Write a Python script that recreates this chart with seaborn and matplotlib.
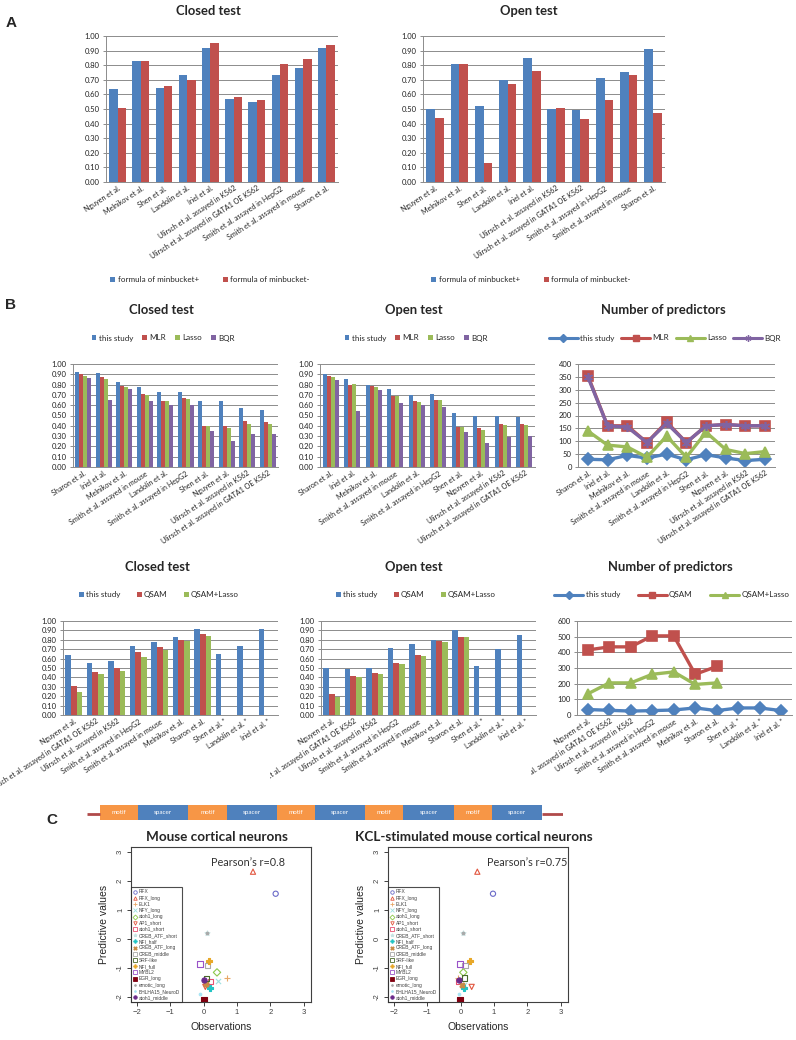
import numpy as np
import pandas as pd
import matplotlib
matplotlib.use('Agg')
import matplotlib.pyplot as plt
import seaborn as sns
from matplotlib.lines import Line2D
from matplotlib.patches import Patch
from matplotlib.ticker import FormatStrFormatter
from matplotlib.transforms import Bbox, TransformedBbox

# ---------------- data ----------------
a_studies = ['Nguyen et al.', 'Melnikov et al.', 'Shen et al.', 'Landolin et al.', 'Iriel et al.',
             'Ulirsch et al. assayed in K562', 'Ulirsch et al. assayed in GATA1 OE K562',
             'Smith et al. assayed in HepG2', 'Smith et al. assayed in mouse', 'Sharon et al.']
a_series = ['formula of minbucket+', 'formula of minbucket-']
a_closed_plus = [0.64, 0.83, 0.645, 0.73, 0.915, 0.57, 0.55, 0.73, 0.78, 0.92]
a_closed_minus = [0.51, 0.83, 0.66, 0.70, 0.95, 0.585, 0.565, 0.81, 0.84, 0.94]
a_open_plus = [0.50, 0.805, 0.52, 0.70, 0.85, 0.50, 0.49, 0.71, 0.755, 0.91]
a_open_minus = [0.435, 0.805, 0.13, 0.67, 0.76, 0.505, 0.43, 0.565, 0.73, 0.47]

b1_studies = ['Sharon et al.', 'Iriel et al.', 'Melnikov et al.', 'Smith et al. assayed in mouse',
              'Landolin et al.', 'Smith et al. assayed in HepG2', 'Shen et al.', 'Nguyen et al.',
              'Ulirsch et al. assayed in K562', 'Ulirsch et al. assayed in GATA1 OE K562']
b1_series = ['this study', 'MLR', 'Lasso', 'BQR']
b1_closed = {
    'this study': [0.92, 0.915, 0.83, 0.78, 0.73, 0.73, 0.645, 0.64, 0.57, 0.55],
    'MLR': [0.90, 0.875, 0.79, 0.71, 0.645, 0.67, 0.40, 0.40, 0.445, 0.44],
    'Lasso': [0.88, 0.855, 0.78, 0.70, 0.64, 0.66, 0.40, 0.375, 0.42, 0.42],
    'BQR': [0.86, 0.65, 0.755, 0.64, 0.60, 0.60, 0.35, 0.255, 0.325, 0.32],
}
b1_open = {
    'this study': [0.905, 0.85, 0.80, 0.755, 0.70, 0.71, 0.52, 0.50, 0.50, 0.49],
    'MLR': [0.88, 0.795, 0.785, 0.69, 0.64, 0.655, 0.39, 0.375, 0.42, 0.42],
    'Lasso': [0.875, 0.805, 0.78, 0.685, 0.635, 0.65, 0.385, 0.36, 0.41, 0.41],
    'BQR': [0.845, 0.545, 0.75, 0.625, 0.60, 0.58, 0.34, 0.23, 0.29, 0.30],
}
b1_npred = {
    'this study': [30, 28, 45, 35, 50, 28, 48, 35, 25, 30],
    'MLR': [355, 160, 160, 95, 175, 95, 160, 165, 160, 160],
    'Lasso': [140, 85, 78, 38, 120, 38, 135, 68, 52, 60],
    'BQR': [350, 160, 155, 95, 170, 95, 160, 165, 160, 160],
}

b2_studies = ['Nguyen et al.', 'Ulirsch et al. assayed in GATA1 OE K562', 'Ulirsch et al. assayed in K562',
              'Smith et al. assayed in HepG2', 'Smith et al. assayed in mouse', 'Melnikov et al.',
              'Sharon et al.', 'Shen et al. *', 'Landolin et al. *', 'Iriel et al. *']
b2_series = ['this study', 'QSAM', 'QSAM+Lasso']
b2_closed = {
    'this study': [0.64, 0.55, 0.57, 0.73, 0.78, 0.83, 0.92, 0.645, 0.73, 0.915],
    'QSAM': [0.31, 0.46, 0.50, 0.67, 0.72, 0.80, 0.86],
    'QSAM+Lasso': [0.25, 0.435, 0.47, 0.62, 0.69, 0.785, 0.84],
}
b2_open = {
    'this study': [0.50, 0.49, 0.50, 0.71, 0.76, 0.80, 0.905, 0.52, 0.70, 0.855],
    'QSAM': [0.22, 0.41, 0.45, 0.555, 0.635, 0.79, 0.83],
    'QSAM+Lasso': [0.19, 0.405, 0.44, 0.545, 0.625, 0.78, 0.825],
}
b2_npred = {
    'this study': [35, 30, 25, 28, 32, 45, 28, 45, 45, 28],
    'QSAM': [415, 435, 435, 505, 505, 260, 310],
    'QSAM+Lasso': [135, 205, 205, 260, 275, 195, 205],
}

segments = ['motif', 'spacer'] * 5
segment_len = [38, 50] * 5

motifs = ['RFX', 'RFX_long', 'ELK1', 'NFY_long', 'atoh1_long', 'AP1_short', 'atoh1_short',
          'CREB_ATF_short', 'NFI_half', 'CREB_ATF_long', 'CREB_middle', 'SRF-like', 'NFI_full',
          'MYBL2', 'EGR_long', 'emotic_long', 'BHLHA15_NeuroD', 'atoh1_middle']
obs_mouse = [2.16, 1.48, 0.71, 0.44, 0.40, 0.05, 0.20, 0.09, 0.19, 0.07, 0.12, 0.09, 0.17,
             -0.11, 0.02, 0.09, -0.10, 0.00]
pred_mouse = [1.56, 2.32, -1.33, -1.45, -1.15, -1.65, -1.45, 0.19, -1.69, -1.56, -0.90, -1.37,
              -0.75, -0.86, -2.10, 0.19, -1.88, -1.42]
obs_kcl = [0.97, 0.50, -0.07, 0.10, 0.08, 0.33, -0.07, 0.08, 0.11, 0.05, 0.13, 0.11, 0.28,
           -0.02, -0.02, 0.08, -0.04, -0.05]
pred_kcl = [1.56, 2.32, -1.33, -1.60, -1.15, -1.65, -1.45, 0.19, -1.69, -1.57, -0.91, -1.34,
            -0.76, -0.86, -2.10, 0.19, -1.88, -1.42]

# marker style per motif: (marker, colour, filled)
motif_style = {
    'RFX': ('o', '#6a6ac8', False), 'RFX_long': ('^', '#e2563f', False),
    'ELK1': ('+', '#e8a868', True), 'NFY_long': ('x', '#9ee0e0', True),
    'atoh1_long': ('D', '#8cc84a', False), 'AP1_short': ('v', '#e2563f', False),
    'atoh1_short': ('s', '#e85070', False), 'CREB_ATF_short': ('*', '#c8e4e4', True),
    'NFI_half': ('P', '#22c4c4', True), 'CREB_ATF_long': ('X', '#c88a44', True),
    'CREB_middle': ('s', '#a8a8a8', False), 'SRF-like': ('s', '#4a6a2a', False),
    'NFI_full': ('P', '#e8a828', True), 'MYBL2': ('s', '#9a52c8', False),
    'EGR_long': ('s', '#800010', True), 'emotic_long': ('.', '#a8a8a8', True),
    'BHLHA15_NeuroD': ('.', '#a8e4f4', True), 'atoh1_middle': ('o', '#6a2a8a', True),
}

# ---------------- layout helpers ----------------
sns.set_theme(style='white')
plt.rcParams['font.family'] = ['Lato', 'DejaVu Sans']

W, H = 796, 1040
fig = plt.figure(figsize=(W / 100, H / 100), dpi=100)

BLUE, RED, GREEN, PURPLE = '#4f81bd', '#c0504d', '#9bbb59', '#8064a2'
GRID = '#8c8c8c'


def px_axes(l, t, r, b):
    return fig.add_axes([l / W, 1 - b / H, (r - l) / W, (b - t) / H])


def fxy(x, y):
    return (x / W, 1 - y / H)


def title(x, y, s, size=9.4):
    fig.text(*fxy(x, y), s, ha='center', va='center', fontsize=size, fontweight='bold')


def excel_axes(ax, cats, ymax, step, fmt, clip=None):
    ax.set_ylim(0, ymax)
    ax.set_yticks(np.arange(0, ymax + step / 2, step))
    ax.yaxis.set_major_formatter(FormatStrFormatter(fmt))
    ax.grid(axis='y', color=GRID, linewidth=0.7)
    ax.grid(axis='x', visible=False)
    ax.set_axisbelow(True)
    for s in ['top', 'right']:
        ax.spines[s].set_visible(False)
    for s in ['left', 'bottom']:
        ax.spines[s].set_color(GRID)
        ax.spines[s].set_linewidth(0.7)
    ax.tick_params(axis='y', left=True, length=2.5, width=0.7, color=GRID,
                   labelsize=5.5, pad=2, labelcolor='#222222')
    ax.set_xlim(-0.5, len(cats) - 0.5)
    ax.set_xticks(range(len(cats)))
    ax.set_xticklabels(cats, rotation=33, ha='right', va='top', rotation_mode='anchor',
                       fontsize=5.1, color='#222222')
    ax.tick_params(axis='x', length=0, pad=2)
    ax.set_xlabel('')
    ax.set_ylabel('')
    if clip is not None:
        # labels are cut at the edge of their own chart area, as in the original
        x0, x1 = clip
        box = TransformedBbox(Bbox.from_extents(x0 / W, 0, x1 / W, 1), fig.transFigure)
        for lab in ax.get_xticklabels():
            lab.set_clip_box(box)
            lab.set_clip_on(True)


def bars(ax, cats, series, values, colors, width):
    rows = []
    for name in series:
        for cat, v in zip(cats, values[name]):
            rows.append((cat, name, v))
    df = pd.DataFrame(rows, columns=['study', 'series', 'value'])
    sns.barplot(data=df, x='study', y='value', hue='series', order=cats, hue_order=series,
                palette=colors, width=width, errorbar=None, saturation=1, linewidth=0,
                legend=False, ax=ax)


def lines(ax, cats, series, values, colors, markers):
    for name, c, m in zip(series, colors, markers):
        v = values[name]
        sns.lineplot(x=np.arange(len(v)), y=v, color=c, marker=m, markersize=6.5,
                     markeredgecolor=c, markeredgewidth=1.2, linewidth=2.4, ax=ax)


def bar_legend(x, y, series, colors, spacing=1.5):
    h = [Patch(facecolor=c, edgecolor='none') for c in colors]
    fig.legend(h, series, loc='center', bbox_to_anchor=fxy(x, y), ncol=len(series),
               frameon=False, fontsize=5.8, handlelength=0.6, handleheight=0.6,
               handletextpad=0.3, columnspacing=spacing, borderpad=0)


def line_legend(x, y, series, colors, markers, spacing=1.0):
    h = [Line2D([], [], color=c, marker=m, markersize=4.5, markeredgewidth=1.0, linewidth=2.2)
         for c, m in zip(colors, markers)]
    fig.legend(h, series, loc='center', bbox_to_anchor=fxy(x, y), ncol=len(series),
               frameon=False, fontsize=5.8, handlelength=3.6, handletextpad=0.3,
               columnspacing=spacing, borderpad=0, numpoints=1)


def panel_label(x, y, s):
    fig.text(*fxy(x, y), s, ha='center', va='center', fontsize=11, fontweight='bold',
             family='Liberation Sans')


# ---------------- panel A ----------------
panel_label(11, 23, 'A')
a_closed = {a_series[0]: a_closed_plus, a_series[1]: a_closed_minus}
a_open = {a_series[0]: a_open_plus, a_series[1]: a_open_minus}

ax = px_axes(106, 36, 338, 182)
bars(ax, a_studies, a_series, a_closed, [BLUE, RED], 0.72)
excel_axes(ax, a_studies, 1.0, 0.1, '%.2f')
title(208, 11, 'Closed test')
bar_legend(210, 280, a_series, [BLUE, RED], spacing=3)

ax = px_axes(423, 36, 665, 182)
bars(ax, a_studies, a_series, a_open, [BLUE, RED], 0.72)
excel_axes(ax, a_studies, 1.0, 0.1, '%.2f')
title(529, 11, 'Open test')
bar_legend(531, 280, a_series, [BLUE, RED], spacing=3)

# ---------------- panel B ----------------
panel_label(11, 305, 'B')
c4 = [BLUE, RED, GREEN, PURPLE]
c3 = [BLUE, RED, GREEN]

ax = px_axes(73, 364, 278, 467)
bars(ax, b1_studies, b1_series, b1_closed, c4, 0.8)
excel_axes(ax, b1_studies, 1.0, 0.1, '%.2f')
title(161, 310, 'Closed test')
bar_legend(163, 338, b1_series, c4, spacing=1.1)

ax = px_axes(320, 364, 535, 467)
bars(ax, b1_studies, b1_series, b1_open, c4, 0.76)
excel_axes(ax, b1_studies, 1.0, 0.1, '%.2f')
title(414, 310, 'Open test')
bar_legend(416, 338, b1_series, c4, spacing=1.1)

ax = px_axes(578, 364, 775, 467)
lines(ax, b1_studies, b1_series, b1_npred, c4, ['D', 's', '^', (6, 2, 0)])
excel_axes(ax, b1_studies, 400, 50, '%d')
title(663, 310, 'Number of predictors')
line_legend(665, 338, b1_series, c4, ['D', 's', '^', (6, 2, 0)], spacing=0.8)

ax = px_axes(63, 621, 278, 715)
bars(ax, b2_studies, b2_series, b2_closed, c3, 0.78)
excel_axes(ax, b2_studies, 1.0, 0.1, '%.2f', clip=(0, 269))
title(157, 567, 'Closed test')
bar_legend(159, 595, b2_series, c3, spacing=2)

ax = px_axes(321, 621, 536, 715)
bars(ax, b2_studies, b2_series, b2_open, c3, 0.78)
excel_axes(ax, b2_studies, 1.0, 0.1, '%.2f', clip=(270, 531))
title(414, 567, 'Open test')
bar_legend(416, 595, b2_series, c3, spacing=2)

ax = px_axes(577, 621, 792, 715)
lines(ax, b2_studies, b2_series, b2_npred, c3, ['D', 's', '^'])
excel_axes(ax, b2_studies, 600, 100, '%d', clip=(531, 796))
title(670, 567, 'Number of predictors')
line_legend(672, 595, b2_series, c3, ['D', 's', '^'], spacing=2.2)

# ---------------- motif / spacer diagram ----------------
ax = px_axes(87, 800, 563, 825)
starts = np.concatenate([[0], np.cumsum(segment_len)[:-1]])
seg_colors = ['#f79646' if s == 'motif' else BLUE for s in segments]
total = sum(segment_len)
ax.plot([-13, 0], [0.45, 0.45], color='#b04a4a', linewidth=2, solid_capstyle='butt')
ax.plot([total, total + 21], [0.45, 0.45], color='#b04a4a', linewidth=2, solid_capstyle='butt')
ax.barh([0.5], segment_len, left=starts, height=0.6, color=seg_colors, linewidth=0)
for s, x0, w in zip(segments, starts, segment_len):
    ax.text(x0 + w / 2, 0.5, s, ha='center', va='center', fontsize=4.5, color='white')
ax.set_xlim(-13, total + 21)
ax.set_ylim(0, 1)
ax.axis('off')

# ---------------- panel C ----------------
panel_label(52, 820, 'C')


def scatter_panel(box, obs, pred, ttl, tx, r_text, rx):
    ax = px_axes(*box)
    for name, x, y in zip(motifs, obs, pred):
        m, c, filled = motif_style[name]
        if m in ('+', 'x', '.', '*', 'P', 'X') or filled:
            ax.scatter([x], [y], marker=m, color=c, s=14, linewidths=0.8)
        else:
            ax.scatter([x], [y], marker=m, facecolors='none', edgecolors=c, s=14, linewidths=0.8)
    ax.set_xlim(-2.18, 3.22)
    ax.set_ylim(-2.17, 3.17)
    ax.set_xticks(range(-2, 4))
    ax.set_yticks(range(-2, 4))
    ax.set_yticklabels([str(v) for v in range(-2, 4)], rotation=90, va='center')
    for s in ax.spines.values():
        s.set_color('#404040')
        s.set_linewidth(0.8)
    ax.tick_params(left=True, bottom=True, length=3, width=0.7, color='#404040',
                   labelsize=5.5, labelcolor='#404040', pad=2)
    for lab in ax.get_xticklabels() + ax.get_yticklabels():
        lab.set_family('Liberation Sans')
    ax.set_xlabel('Observations', fontsize=7.5, family='Liberation Sans', labelpad=4)
    ax.set_ylabel('Predictive values', fontsize=7.5, family='Liberation Sans', labelpad=6)
    handles = []
    for name in motifs:
        m, c, filled = motif_style[name]
        fc = c if (filled or m in ('+', 'x', '.', '*', 'P', 'X')) else 'none'
        handles.append(Line2D([], [], marker=m, color=c, markerfacecolor=fc, linestyle='none',
                              markersize=2.5, markeredgewidth=0.6))
    leg = ax.legend(handles, motifs, loc='lower left', borderaxespad=0, fontsize=3.5,
                    frameon=True, fancybox=False, edgecolor='#202020', handletextpad=0.4,
                    labelspacing=0.25, borderpad=0.4, handlelength=0.8)
    leg.get_frame().set_linewidth(0.8)
    for t in leg.get_texts():
        t.set_family('Liberation Sans')
        t.set_color('#404040')
    title(tx, 837, ttl, size=9.7)
    fig.text(*fxy(rx, 863), r_text, ha='center', va='center', fontsize=7.8, color='#333333')


scatter_panel((131, 847, 311, 1002), obs_mouse, pred_mouse, 'Mouse cortical neurons', 217,
              'Pearson\u2019s r=0.8', 248)
scatter_panel((388, 847, 568, 1002), obs_kcl, pred_kcl, 'KCL-stimulated mouse cortical neurons', 474,
              'Pearson\u2019s r=0.75', 527)

fig.savefig('out.png', dpi=100)
